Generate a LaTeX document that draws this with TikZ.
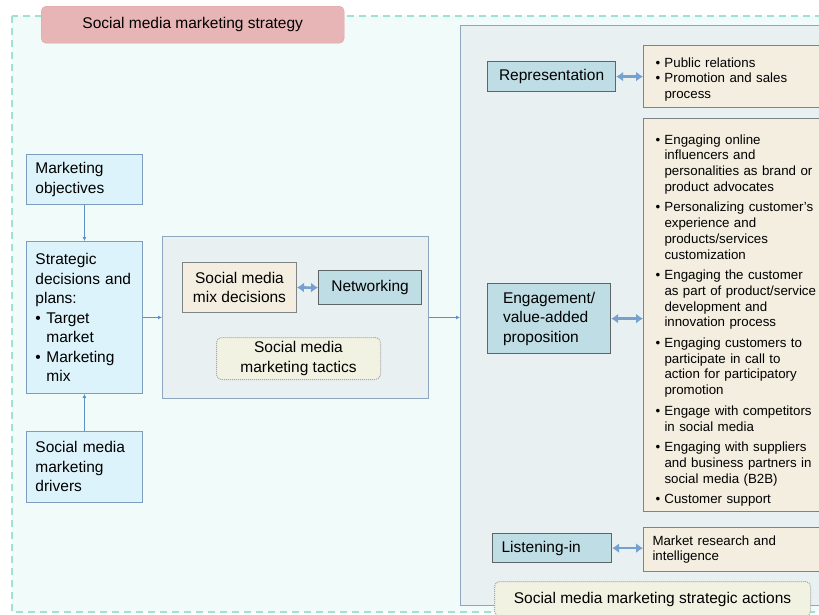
\documentclass[tikz,border=0pt]{standalone}
\usepackage{fontspec}
\setmainfont{Liberation Sans}
\usetikzlibrary{arrows.meta}

\definecolor{mintbg}{HTML}{F1FCFA}
\definecolor{mintline}{HTML}{9EE3D0}
\definecolor{titlered}{HTML}{E8B5B6}
\definecolor{titleline}{HTML}{D9A2A4}
\definecolor{skyfill}{HTML}{DCF3FB}
\definecolor{skyline}{HTML}{7D9DBE}
\definecolor{panelfill}{HTML}{E9F0F1}
\definecolor{panelline}{HTML}{8EA7BF}
\definecolor{creamfill}{HTML}{F3EEDF}
\definecolor{tealfill}{HTML}{BFDDE4}
\definecolor{darkline}{HTML}{5F6466}
\definecolor{tacfill}{HTML}{F2F2E2}
\definecolor{arrowblue}{HTML}{5E8FC6}

\def\mainsize{\fontsize{15.5}{19.5}\selectfont}
\def\listsize{\fontsize{13.3}{15.7}\selectfont}
\newcommand{\brk}{\hfil\break}
\newcommand{\bpt}{\par\hangindent=9pt\hangafter=1\noindent\makebox[9pt][l]{\textbullet}}
\newcommand{\bptl}{\par\hangindent=11pt\hangafter=1\noindent\makebox[11pt][l]{\textbullet}}

\begin{document}
\begin{tikzpicture}[x=1pt, y=-1pt,
    skybox/.style={draw=skyline, fill=skyfill, line width=0.9pt, anchor=north west,
      inner xsep=9pt, align=left, font=\mainsize},
    panel/.style={draw=panelline, fill=panelfill, line width=0.9pt, anchor=north west},
    creambox/.style={draw=darkline!80, fill=creamfill, line width=1pt, anchor=north west,
      inner xsep=12pt, align=left, font=\listsize},
    tealbox/.style={draw=darkline, fill=tealfill, line width=1.2pt, anchor=north west,
      inner xsep=9pt, font=\mainsize},
    tagbox/.style={draw=gray!70, densely dotted, fill=tacfill, rounded corners=5pt,
      line width=1pt, anchor=north west, align=center, font=\mainsize},
    flow/.style={draw=arrowblue, line width=0.8pt, -{Latex[length=4pt,width=4pt]}},
    link/.style={draw=arrowblue!85, line width=2.6pt,
      {Latex[length=7pt,width=10pt]}-{Latex[length=7pt,width=10pt]}}]
  \clip (0,0) rectangle (819,614);
  \useasboundingbox (0,0) rectangle (819,614);
  \fill[white] (0,0) rectangle (819,614);

  % strategy frame
  \draw[mintline, dash pattern=on 7pt off 5pt, fill=mintbg, line width=1.6pt]
    (12,16) rectangle (835,612);
  \node[fill=titlered, draw=titleline, rounded corners=5pt, anchor=north west,
    minimum width=303pt, minimum height=37pt, font=\mainsize] (title) at (41,6)
    {Social media marketing strategy};

  % left column
  \node[skybox, text width=98pt, minimum height=50pt] (obj) at (26,154)
    {Marketing\\objectives};
  \node[skybox, text width=98pt, minimum height=152pt] (strat) at (26,241)
    {Strategic\\decisions and\\plans:\bptl Target\brk market\bptl Marketing\brk mix\par};
  \node[skybox, text width=98pt, minimum height=71pt] (drv) at (26,431)
    {Social media\\marketing\\drivers};

  % tactics panel
  \node[panel, minimum width=266pt, minimum height=162pt] (tactics) at (162,236) {};
  \node[draw=darkline!80, fill=creamfill, line width=1pt, anchor=north west,
    minimum width=114pt, minimum height=50pt, align=center, font=\mainsize] (mix) at (182,262)
    {Social media\\mix decisions};
  \node[tealbox, minimum width=103pt, minimum height=34pt] (net) at (318,270) {Networking};
  \node[tagbox, minimum width=164pt, minimum height=42pt] (tac) at (216,337)
    {Social media\\marketing tactics};

  % actions panel
  \node[panel, minimum width=380pt, minimum height=580pt] (actions) at (460,25) {};
  \node[tealbox, minimum width=128pt, minimum height=30pt] (rep) at (487,61) {Representation};
  \node[creambox, text width=166pt, minimum height=62pt] (pr) at (643,45)
    {\bpt Public relations\bpt Promotion and sales\brk process\par};
  \node[tealbox, align=left, minimum width=123pt, minimum height=70pt] (eng) at (487,283)
    {Engagement/\\value-added\\proposition};
  \node[creambox, text width=166pt, minimum height=393pt] (engl) at (643,118)
    {\setlength{\parskip}{5pt}%
     \bpt Engaging online\brk influencers and\brk personalities as brand or\brk product advocates%
     \bpt Personalizing customer's\brk experience and\brk products/services\brk customization%
     \bpt Engaging the customer\brk as part of product/service\brk development and\brk innovation process%
     \bpt Engaging customers to\brk participate in call to\brk action for participatory\brk promotion%
     \bpt Engage with competitors\brk in social media%
     \bpt Engaging with suppliers\brk and business partners in\brk social media (B2B)%
     \bpt Customer support\par};
  \node[tealbox, align=left, minimum width=119pt, minimum height=29pt, text width=101pt] (lis) at (492,533)
    {Listening-in};
  \node[creambox, inner xsep=9pt, text width=172pt, minimum height=44pt] (mr) at (643,527)
    {Market research and\\intelligence};
  \node[tagbox, minimum width=316pt, minimum height=35pt] (act) at (494,581)
    {Social media marketing strategic actions};

  % connectors
  \draw[flow] (obj) -- (strat);
  \draw[flow] (drv) -- (strat);
  \draw[flow] (strat.east) -- (strat.east -| tactics.west);
  \draw[flow] (tactics.east) -- (tactics.east -| actions.west);
  \draw[link] (mix.east) -- (net.west);
  \draw[link] (rep.east) -- (rep.east -| pr.west);
  \draw[link] (eng.east) -- (eng.east -| engl.west);
  \draw[link] (lis.east) -- (lis.east -| mr.west);
\end{tikzpicture}
\end{document}
